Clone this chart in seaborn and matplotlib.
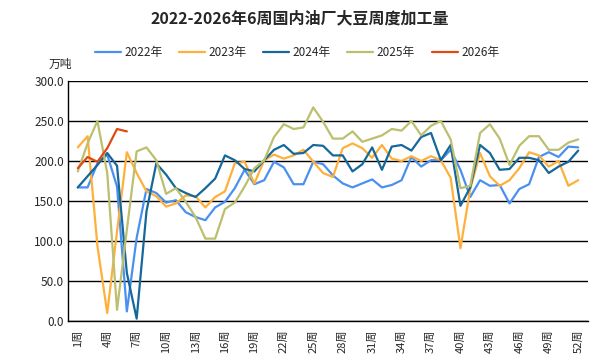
import numpy as np
import pandas as pd
import matplotlib
matplotlib.use("Agg")
import matplotlib.pyplot as plt
import seaborn as sns

# 周次
weeks = list(range(1, 53))

y2022 = [167, 167, 197, 208, 168, 12, 104, 165, 160, 148, 151, 136, 130, 126, 142, 149,
         166, 189, 171, 176, 199, 192, 171, 171, 199, 196, 182, 172, 167, 172, 177, 167,
         170, 176, 205, 193, 201, 201, 214, 189, 155, 176, 169, 170, 147, 165, 171, 205,
         211, 205, 218, 217]
y2023 = [217, 231, 94, 10, 112, 211, 185, 162, 156, 143, 147, 157, 156, 142, 155, 162,
         197, 199, 172, 201, 208, 203, 207, 214, 199, 185, 180, 216, 222, 216, 204, 220,
         203, 200, 206, 200, 206, 201, 179, 91, 165, 210, 181, 169, 176, 191, 211, 207,
         193, 200, 169, 176]
y2024 = [167, 181, 195, 210, 194, 60, 3, 137, 197, 183, 166, 160, 155, 166, 178, 207,
         201, 190, 187, 201, 214, 220, 209, 210, 220, 219, 207, 207, 187, 196, 217, 189,
         218, 220, 213, 230, 235, 201, 220, 144, 167, 220, 210, 189, 190, 204, 204, 201,
         185, 193, 199, 213]
y2025 = [187, 222, 250, 185, 14, 114, 212, 217, 201, 159, 166, 149, 130, 103, 103, 140,
         148, 168, 191, 201, 230, 246, 240, 242, 267, 249, 228, 228, 237, 224, 228, 232,
         240, 238, 250, 232, 244, 250, 227, 166, 169, 235, 246, 228, 195, 219, 231, 231,
         214, 214, 223, 227]
y2026 = [191, 205, 199, 216, 240, 237]

years = ["2022年", "2023年", "2024年", "2025年", "2026年"]
colors = ["#4a90f0", "#ffb03a", "#16689a", "#bcbf6e", "#e04a12"]

rows = []
for name, vals in zip(years, [y2022, y2023, y2024, y2025, y2026]):
    for w, v in zip(weeks, vals):
        rows.append({"周": w, "加工量": v, "年份": name})
df = pd.DataFrame(rows)

sns.set_style("white")
plt.rcParams["font.family"] = ["Noto Sans CJK SC", "DejaVu Sans"]

fig = plt.figure(figsize=(6, 3.6), dpi=100)
ax = fig.add_axes([0.1133, 0.1083, 0.8667, 0.6667])

sns.lineplot(data=df, x="周", y="加工量", hue="年份", palette=colors,
             linewidth=1.6, ax=ax, legend=True)

ax.set_xlim(0, 53)
ax.set_ylim(0, 300)
ax.set_yticks(np.arange(0, 301, 50))
ax.set_yticklabels([f"{v:.1f}" for v in np.arange(0, 301, 50)], fontsize=8.5)
xt = list(range(1, 53, 3))
ax.set_xticks(xt)
ax.set_xticklabels([f"{w}周" for w in xt], rotation=90, fontsize=8)
ax.tick_params(axis="x", length=4, width=0.8, color="black", pad=2)
ax.tick_params(axis="y", length=0, pad=3)
ax.yaxis.grid(True, color="black", linewidth=1)
ax.set_axisbelow(True)
for s in ["top", "right"]:
    ax.spines[s].set_visible(False)
for s in ["left", "bottom"]:
    ax.spines[s].set_color("black")
    ax.spines[s].set_linewidth(1)
ax.set_xlabel("")
ax.set_ylabel("")

handles, labels = ax.get_legend_handles_labels()
ax.legend_.remove()
fig.legend(handles, labels, loc="center", bbox_to_anchor=(0.495, 0.855), ncol=5,
           frameon=False, fontsize=8.5, handlelength=2.2, columnspacing=1.4,
           handletextpad=0.3)

fig.text(0.5, 0.95, "2022-2026年6周国内油厂大豆周度加工量", ha="center", va="center",
         fontsize=11.5, fontweight="bold")
fig.text(0.1, 0.82, "万吨", ha="center", va="center", fontsize=8.5)

fig.savefig("out.png", dpi=100)
